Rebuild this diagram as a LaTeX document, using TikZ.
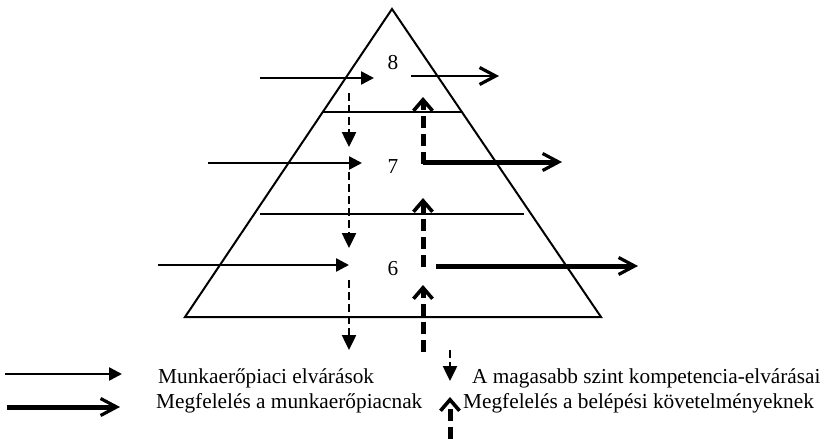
\documentclass[tikz,border=0pt]{standalone}
\usepackage{fontspec}
\setmainfont{Liberation Serif}
\usetikzlibrary{arrows.meta, positioning}
\tikzset{
x=1pt, y=-1pt, % work in pixels of the original figure
every node/.style={font=\fontsize{21.3}{24}\selectfont, inner sep=0pt}, % Times-like labels
frame/.style={line width=2pt, line join=miter}, % outline of the pyramid
divider/.style={line width=1.6pt}, % lines between the levels
demand/.style={line width=2.5pt, -{Triangle[length=13pt,width=13pt]}}, % labour market demand
fit/.style={line width=#1, -{Straight Barb[length=16pt,width=17pt,line width=3.2pt]}}, % meeting the labour market
fit/.default=5pt,
higher/.style={line width=2.5pt, dash pattern=on 8pt off 4pt, -{Triangle[length=15pt,width=14pt]}}, % competence demand of the level above
entry/.style={line width=5pt, dash pattern=on 12pt off 6pt, -{Straight Barb[length=11pt,width=19pt,line width=3.6pt]}}, % meeting entry requirements
}
\begin{document}
\begin{tikzpicture}
    \useasboundingbox (0,0) rectangle (830,439);
    % pyramid
    \coordinate (apex) at (392,9);
    \coordinate (bl) at (185,317);
    \coordinate (br) at (601,317);
    \draw[frame] (apex) -- (br) -- (bl) -- cycle;
    \draw[divider] (323,112) -- (462,112);
    \draw[divider] (260,214) -- (524,214);
    % levels
    \node (l8) at (393,63) {8};
    \node (l7) at (393,167) {7};
    \node (l6) at (393,269) {6};
    % arrows coming in from the labour market
    \coordinate (in8) at (260,78);
    \coordinate (at8) at (374,78);
    \coordinate (in7) at (208,163);
    \coordinate (at7) at (362,163);
    \coordinate (in6) at (158,265);
    \coordinate (at6) at (349,265);
    \draw[demand] (in8) -- (at8);
    \draw[demand] (in7) -- (at7);
    \draw[demand] (in6) -- (at6);
    % arrows going out to the labour market
    \coordinate (from8) at (411,76);
    \coordinate (out8) at (499,76);
    \coordinate (corner7) at (423,162);
    \coordinate (out7) at (562,162);
    \coordinate (from6) at (436,266);
    \coordinate (out6) at (638,266);
    \draw[fit=2.8pt] (from8) -- (out8);
    \draw[fit] (corner7) -- (out7);
    \draw[fit] (from6) -- (out6);
    % demands passed down from the level above
    \coordinate (d8) at (349,93);
    \coordinate (d7) at (349,147);
    \coordinate (d7b) at (349,172);
    \coordinate (d6) at (349,248);
    \coordinate (d6b) at (349,280);
    \coordinate (d5) at (349,350);
    \draw[higher] (d8) -- (d7);
    \draw[higher] (d7b) -- (d6);
    \draw[higher] (d6b) -- (d5);
    % entry requirements met from below
    \coordinate (u7) at (423,164);
    \coordinate (u8) at (423,97);
    \coordinate (u6) at (423,267);
    \coordinate (u7b) at (423,198);
    \coordinate (u5) at (423,352);
    \coordinate (u6b) at (423,285);
    \draw[entry] (u7) -- (u8);
    \draw[entry] (u6) -- (u7b);
    \draw[entry] (u5) -- (u6b);
    % legend
    \coordinate (k1a) at (5,374);
    \coordinate (k1b) at (122,374);
    \coordinate (k2a) at (7,407);
    \coordinate (k2b) at (120,407);
    \coordinate (k3a) at (450,350);
    \coordinate (k3b) at (450,381);
    \coordinate (k4a) at (450,439);
    \coordinate (k4b) at (450,397);
    \draw[demand] (k1a) -- (k1b);
    \draw[fit] (k2a) -- (k2b);
    \draw[higher] (k3a) -- (k3b);
    \draw[entry] (k4a) -- (k4b);
    \node[anchor=base west] (t1) at (158,383) {Munkaerőpiaci elvárások};
    \node[anchor=base west] (t2) at (156,408) {Megfelelés a munkaerőpiacnak};
    \node[anchor=base west] (t3) at (472,383) {A magasabb szint kompetencia-elvárásai};
    \node[anchor=base west] (t4) at (463,408) {Megfelelés a belépési követelményeknek};
\end{tikzpicture}
\end{document}
